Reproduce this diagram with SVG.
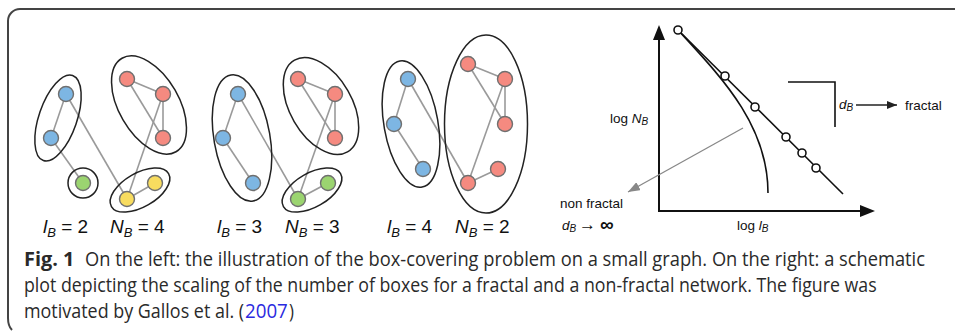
<svg xmlns="http://www.w3.org/2000/svg" width="955" height="331" viewBox="0 0 955 331">
<style>
.edge{stroke:#9a9a9a;stroke-width:1.6;fill:none}
.box{fill:none;stroke:#222;stroke-width:1.5}
.n{stroke:#6f6f6f;stroke-width:1.4}
.b{fill:#7db6e3}.r{fill:#f58a80}.g{fill:#9bd470}.y{fill:#f8dc5f}
.lab{font-family:"Liberation Sans",Arial,sans-serif;font-size:19px;fill:#111}
.sub{font-size:13px;font-style:italic}
.it{font-style:italic}
.pl{font-family:"Liberation Sans",Arial,sans-serif;font-size:13.5px;fill:#111}
.ps{font-size:10px;font-style:italic}
.cap{font-family:"Open Sans","Noto Sans",sans-serif;font-size:20px;fill:#2a2a2a}
.ax{stroke:#111;stroke-width:2;fill:none}
.ln{stroke:#111;stroke-width:1.6;fill:none}
.pt{fill:#fff;stroke:#111;stroke-width:1.6}
</style>
<defs>
<marker id="ah" markerWidth="10" markerHeight="8" refX="10" refY="4" orient="auto" markerUnits="userSpaceOnUse"><path d="M0,0 L10,4 L0,8 Z" fill="#222"/></marker>
<marker id="ahg" markerWidth="12" markerHeight="9" refX="12" refY="4.5" orient="auto" markerUnits="userSpaceOnUse"><path d="M0,0 L12,4.5 L0,9 Z" fill="#888"/></marker>
</defs>
<rect width="955" height="331" fill="#fff"/>
<path id="frame" d="M955,9 H20 A12,12 0 0 0 8,21 V318 Q8,326 12,330" fill="none" stroke="#444" stroke-width="2"/>

<g id="connectors">
<line class="edge" x1="66" y1="94" x2="51" y2="138"/>
<line class="edge" x1="66" y1="94" x2="127" y2="199"/>
<line class="edge" x1="51" y1="138" x2="83" y2="183"/>
<line class="edge" x1="127" y1="199" x2="155" y2="183"/>
<line class="edge" x1="127" y1="199" x2="163" y2="94"/>
<line class="edge" x1="127" y1="79" x2="163" y2="94"/>
<line class="edge" x1="127" y1="79" x2="163" y2="138"/>
<line class="edge" x1="163" y1="94" x2="163" y2="138"/>
<line class="edge" x1="238" y1="94" x2="223" y2="138"/>
<line class="edge" x1="223" y1="138" x2="253" y2="183"/>
<line class="edge" x1="238" y1="94" x2="298" y2="199"/>
<line class="edge" x1="298" y1="199" x2="328" y2="183"/>
<line class="edge" x1="298" y1="199" x2="335" y2="94"/>
<line class="edge" x1="298" y1="79" x2="335" y2="94"/>
<line class="edge" x1="298" y1="79" x2="335" y2="138"/>
<line class="edge" x1="335" y1="94" x2="335" y2="138"/>
<line class="edge" x1="408" y1="79" x2="394" y2="124"/>
<line class="edge" x1="394" y1="124" x2="423" y2="169"/>
<line class="edge" x1="408" y1="79" x2="468" y2="183"/>
<line class="edge" x1="468" y1="183" x2="498" y2="169"/>
<line class="edge" x1="468" y1="183" x2="505" y2="79"/>
<line class="edge" x1="468" y1="64" x2="505" y2="79"/>
<line class="edge" x1="468" y1="64" x2="505" y2="124"/>
<line class="edge" x1="505" y1="79" x2="505" y2="124"/>
</g>

<g id="boxes">
<ellipse class="box" cx="58" cy="118" rx="19" ry="45" transform="rotate(19 58 118)"/>
<circle class="box" cx="83" cy="183" r="15"/>
<ellipse class="box" cx="140" cy="190" rx="33" ry="17" transform="rotate(-30 140 190)"/>
<ellipse class="box" cx="149" cy="105" rx="30" ry="54" transform="rotate(-30 149 105)"/>
<ellipse class="box" cx="242" cy="138" rx="28" ry="64" transform="rotate(-10 242 138)"/>
<ellipse class="box" cx="312" cy="190" rx="33" ry="17" transform="rotate(-30 312 190)"/>
<ellipse class="box" cx="321" cy="106" rx="31" ry="53" transform="rotate(-30 321 106)"/>
<ellipse class="box" cx="411" cy="124" rx="27" ry="64" transform="rotate(-10 411 124)"/>
<ellipse class="box" cx="486" cy="124" rx="41.5" ry="89"/>
</g>

<g id="nodes1">
<circle class="n b" cx="66" cy="94" r="7.5"/>
<circle class="n b" cx="51" cy="138" r="7.5"/>
<circle class="n g" cx="83" cy="183" r="7.5"/>
<circle class="n y" cx="127" cy="199" r="7.5"/>
<circle class="n y" cx="155" cy="183" r="7.5"/>
<circle class="n r" cx="127" cy="79" r="7.5"/>
<circle class="n r" cx="163" cy="94" r="7.5"/>
<circle class="n r" cx="163" cy="138" r="7.5"/>
</g>
<g id="nodes2">
<circle class="n b" cx="238" cy="94" r="7.5"/>
<circle class="n b" cx="223" cy="138" r="7.5"/>
<circle class="n b" cx="253" cy="183" r="7.5"/>
<circle class="n g" cx="298" cy="199" r="7.5"/>
<circle class="n g" cx="328" cy="183" r="7.5"/>
<circle class="n r" cx="298" cy="79" r="7.5"/>
<circle class="n r" cx="335" cy="94" r="7.5"/>
<circle class="n r" cx="335" cy="138" r="7.5"/>
</g>
<g id="nodes3">
<circle class="n b" cx="408" cy="79" r="7.5"/>
<circle class="n b" cx="394" cy="124" r="7.5"/>
<circle class="n b" cx="423" cy="169" r="7.5"/>
<circle class="n r" cx="468" cy="183" r="7.5"/>
<circle class="n r" cx="498" cy="169" r="7.5"/>
<circle class="n r" cx="468" cy="64" r="7.5"/>
<circle class="n r" cx="505" cy="79" r="7.5"/>
<circle class="n r" cx="505" cy="124" r="7.5"/>
</g>

<g id="labels">
<text class="lab" x="43" y="233"><tspan class="it">l</tspan><tspan class="sub" dy="4">B</tspan><tspan dy="-4"> = 2</tspan></text>
<text class="lab" x="110" y="233"><tspan class="it">N</tspan><tspan class="sub" dy="4">B</tspan><tspan dy="-4"> = 4</tspan></text>
<text class="lab" x="217" y="233"><tspan class="it">l</tspan><tspan class="sub" dy="4">B</tspan><tspan dy="-4"> = 3</tspan></text>
<text class="lab" x="285" y="233"><tspan class="it">N</tspan><tspan class="sub" dy="4">B</tspan><tspan dy="-4"> = 3</tspan></text>
<text class="lab" x="387" y="233"><tspan class="it">l</tspan><tspan class="sub" dy="4">B</tspan><tspan dy="-4"> = 4</tspan></text>
<text class="lab" x="455" y="233"><tspan class="it">N</tspan><tspan class="sub" dy="4">B</tspan><tspan dy="-4"> = 2</tspan></text>
</g>

<g id="plot">
<line class="ax" x1="659" y1="211" x2="659" y2="38"/>
<path d="M659,25 L665,40 L653,40 Z" fill="#111"/>
<line class="ax" x1="658" y1="211" x2="861" y2="211"/>
<path d="M875,211 L860,205 L860,217 Z" fill="#111"/>
<line class="ln" x1="678" y1="30" x2="843" y2="194"/>
<path class="ln" d="M678,30 C722,78 768,125 768,193"/>
<circle class="pt" cx="678" cy="30" r="4"/>
<circle class="pt" cx="725" cy="76" r="4"/>
<circle class="pt" cx="755" cy="107" r="4"/>
<circle class="pt" cx="786" cy="137" r="4"/>
<circle class="pt" cx="802" cy="153" r="4"/>
<circle class="pt" cx="816" cy="168" r="4"/>
<path class="ln" d="M788,82 H835 V127" stroke-width="1.3"/>
<line x1="856" y1="105" x2="897" y2="105" stroke="#222" stroke-width="1.3" marker-end="url(#ah)"/>
<line x1="743" y1="128" x2="628" y2="192" stroke="#888" stroke-width="1.3" marker-end="url(#ahg)"/>
<text class="pl" x="839" y="109"><tspan class="it">d</tspan><tspan class="ps" dy="2">B</tspan></text>
<text class="pl" x="905" y="110">fractal</text>
<text class="pl" x="610" y="123">log <tspan class="it">N</tspan><tspan class="ps" dy="2">B</tspan></text>
<text class="pl" x="560" y="208">non fractal</text>
<text class="pl" x="562" y="230"><tspan class="it">d</tspan><tspan class="ps" dy="2">B</tspan></text>
<text class="pl" x="579" y="230" style="font-size:17px">→</text>
<text class="pl" x="600" y="231" style="font-size:19px;font-weight:bold">∞</text>
<text class="pl" x="737" y="230">log <tspan class="it">l</tspan><tspan class="ps" dy="2">B</tspan></text>
</g>

<g id="caption">
<text class="cap" transform="translate(24,266) scale(0.84,1)" font-weight="bold" textLength="60" lengthAdjust="spacingAndGlyphs">Fig. 1</text>
<text class="cap" transform="translate(85,266) scale(0.84,1)" textLength="1000" lengthAdjust="spacingAndGlyphs">On the left: the illustration of the box-covering problem on a small graph. On the right: a schematic</text>
<text class="cap" transform="translate(24,292) scale(0.84,1)" textLength="1015" lengthAdjust="spacingAndGlyphs">plot depicting the scaling of the number of boxes for a fractal and a non-fractal network. The figure was</text>
<text class="cap" transform="translate(24,318) scale(0.84,1)" textLength="262" lengthAdjust="spacingAndGlyphs">motivated by Gallos et al. (</text>
<text class="cap" transform="translate(245,318) scale(0.84,1)" textLength="51" lengthAdjust="spacingAndGlyphs" style="fill:#2a2ae0">2007</text>
<text class="cap" transform="translate(289,318) scale(0.84,1)">)</text>
</g>
</svg>
